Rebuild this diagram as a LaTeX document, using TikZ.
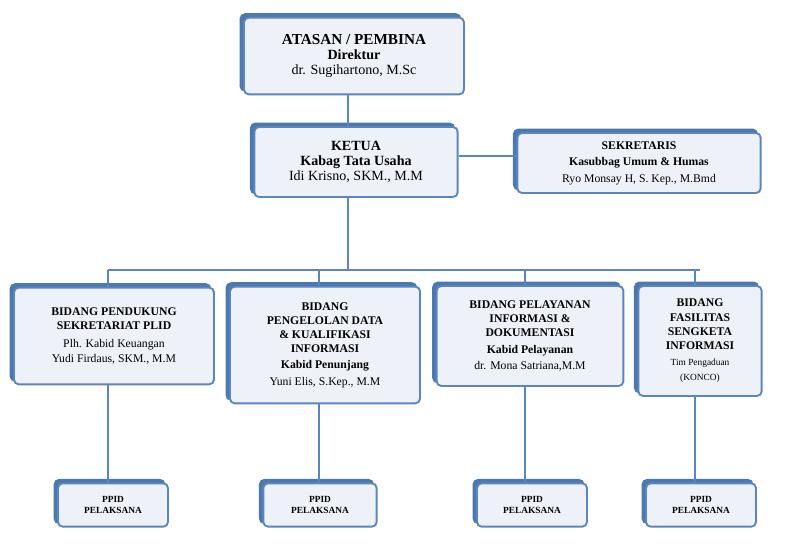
\documentclass[tikz,border=0pt]{standalone}
\usepackage{fontspec}
\setmainfont{Liberation Serif}
\usetikzlibrary{positioning, shadows}
\definecolor{boxline}{HTML}{5A86BF}
\definecolor{boxfill}{HTML}{EEF2F8}
\definecolor{boxshade}{HTML}{4C78B2}

\begin{document}
\begin{tikzpicture}[x=0.03cm, y=-0.03cm,
    unit/.style={rectangle, rounded corners=4pt, draw=boxline, line width=1.6pt, fill=boxfill,
      align=center, inner sep=2pt, font=\fontsize{10}{12}\selectfont,
      copy shadow={shadow xshift=-3pt, shadow yshift=3pt, fill=boxshade, draw=boxshade}},
    link/.style={draw=boxline, line width=2pt}]
  \useasboundingbox (0,0) rectangle (792,544);
  % Draw the boxes.
  \node[unit, minimum width=6.6cm, minimum height=2.3cm] at (354,56) (top)
    {{\fontsize{13}{16}\selectfont\bfseries ATASAN / PEMBINA}\\[1pt]\textbf{\large Direktur}\\[1pt]{\large dr. Sugihartono, M.Sc}};
  \node[unit, minimum width=6.1cm, minimum height=2.1cm] at (356,162) (ketua)
    {\textbf{\large KETUA}\\[1pt]\textbf{\large Kabag Tata Usaha}\\[1pt]{\large Idi Krisno, SKM., M.M}};
  \node[unit, minimum width=7.3cm, minimum height=1.8cm] at (639,163) (sekr)
    {\textbf{SEKRETARIS}\\[2pt]\textbf{Kasubbag Umum \& Humas}\\[2pt]Ryo Monsay H, S. Kep., M.Bmd};
  \node[unit, minimum width=6.0cm, minimum height=2.9cm] at (114,336) (b1)
    {\textbf{BIDANG PENDUKUNG}\\\textbf{SEKRETARIAT PLID}\\[3pt]Plh. Kabid Keuangan\\[1pt]Yudi Firdaus, SKM., M.M};
  \node[unit, minimum width=5.7cm, minimum height=3.5cm] at (325,345) (b2)
    {\textbf{BIDANG}\\\textbf{PENGELOLAN DATA}\\\textbf{\& KUALIFIKASI}\\\textbf{INFORMASI}\\[2pt]\textbf{Kabid Penunjang}\\[2pt]Yuni Elis, S.Kep., M.M};
  \node[unit, minimum width=5.6cm, minimum height=3.0cm] at (530,336) (b3)
    {\textbf{BIDANG PELAYANAN}\\\textbf{INFORMASI \&}\\\textbf{DOKUMENTASI}\\[2pt]\textbf{Kabid Pelayanan}\\[2pt]dr. Mona Satriana,M.M};
  \node[unit, minimum width=3.7cm, minimum height=3.3cm] at (700,341) (b4)
    {\textbf{BIDANG}\\\textbf{FASILITAS}\\\textbf{SENGKETA}\\\textbf{INFORMASI}\\[2pt]{\footnotesize Tim Pengaduan}\\[1pt]{\footnotesize (KONCO)}};
  \node[unit, minimum width=3.3cm, minimum height=1.3cm, font=\footnotesize\bfseries] at (113,505) (p1) {PPID\\PELAKSANA};
  \node[unit, minimum width=3.4cm, minimum height=1.3cm, font=\footnotesize\bfseries] at (320,505) (p2) {PPID\\PELAKSANA};
  \node[unit, minimum width=3.3cm, minimum height=1.3cm, font=\footnotesize\bfseries] at (532,505) (p3) {PPID\\PELAKSANA};
  \node[unit, minimum width=3.3cm, minimum height=1.3cm, font=\footnotesize\bfseries] at (701,505) (p4) {PPID\\PELAKSANA};
  \coordinate (bus) at (348,270);

  % Connect the boxes
  \begin{scope}[on background layer/.style={}]
  \end{scope}
  \path[link] (top.south -| bus) -- (ketua.north -| bus);
  \path[link] (ketua.east |- 0,156) -- (sekr.west |- 0,156);
  \path[link] (ketua.south -| bus) -- (bus);
  \path[link] (108,270) -- (700,270);
  \path[link] (108,270) -- (b1.north -| 108,0);
  \path[link] (319,270) -- (b2.north -| 319,0);
  \path[link] (525,270) -- (b3.north -| 525,0);
  \path[link] (695,270) -- (b4.north -| 695,0);
  \path[link] (b1.south -| 108,0) -- (p1.north -| 108,0);
  \path[link] (b2.south -| 319,0) -- (p2.north -| 319,0);
  \path[link] (b3.south -| 525,0) -- (p3.north -| 525,0);
  \path[link] (b4.south -| 695,0) -- (p4.north -| 695,0);
\end{tikzpicture}
\end{document}
